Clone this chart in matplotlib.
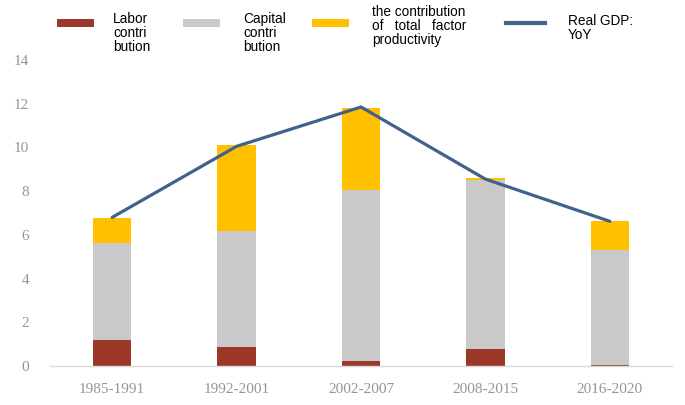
import matplotlib
matplotlib.use("Agg")
import matplotlib.pyplot as plt
from matplotlib.patches import Rectangle
from matplotlib.lines import Line2D

periods = ["1985-1991", "1992-2001", "2002-2007", "2008-2015", "2016-2020"]
labor = [1.2, 0.88, 0.25, 0.76, 0.05]
capital = [4.43, 5.3, 7.79, 7.74, 5.28]
tfp = [1.14, 3.91, 3.78, 0.08, 1.29]
gdp = [6.8, 10.05, 11.85, 8.55, 6.62]
series_names = ["Labor\ncontri\nbution", "Capital\ncontri\nbution",
                "the contribution\nof   total   factor\nproductivity", "Real GDP:\nYoY"]
yticks = [0, 2, 4, 6, 8, 10, 12, 14]

c_labor = "#9C3829"
c_cap = "#C9C9C9"
c_tfp = "#FFC000"
c_gdp = "#41628A"

W, H = 685, 405
fig = plt.figure(figsize=(W / 100, H / 100), dpi=100)
ax = fig.add_axes([50 / W, 39 / H, 622 / W, 306 / H])

x = list(range(len(periods)))
bw = 0.31
ax.bar(x, labor, bw, color=c_labor)
bot2 = [a for a in labor]
ax.bar(x, capital, bw, bottom=bot2, color=c_cap)
bot3 = [a + b for a, b in zip(labor, capital)]
ax.bar(x, tfp, bw, bottom=bot3, color=c_tfp)
ax.plot(x, gdp, color=c_gdp, lw=2.3, solid_capstyle="round", zorder=5)

ax.set_xlim(-0.5, len(periods) - 0.5)
ax.set_ylim(0, 14)
ax.set_yticks(yticks)
ax.set_yticklabels([str(v) for v in yticks])
ax.set_xticks(x)
ax.set_xticklabels(periods)
for s in ["top", "right", "left"]:
    ax.spines[s].set_visible(False)
ax.spines["bottom"].set_color("#D9D9D9")
ax.spines["bottom"].set_linewidth(1.0)
ax.tick_params(axis="both", length=0, colors="#959595", labelsize=11)
ax.tick_params(axis="y", pad=15)
ax.tick_params(axis="x", pad=12)
for lab in ax.get_xticklabels() + ax.get_yticklabels():
    lab.set_fontfamily("Liberation Serif")

# legend drawn in figure pixel coordinates
def fx(px):
    return px / W

def fy(py):
    return 1 - py / H

legend_font = "Liberation Sans"
patch_specs = [(57, c_labor), (183, c_cap), (312, c_tfp)]
for (px, col) in patch_specs:
    fig.patches.append(Rectangle((fx(px), fy(27)), 37 / W, 8 / H, transform=fig.transFigure,
                                 color=col, lw=0))
fig.lines.append(Line2D([fx(506), fx(545)], [fy(23), fy(23)], transform=fig.transFigure,
                        color=c_gdp, lw=3.0))
text_specs = [(113, 12), (243, 12), (372, 5), (568, 14)]
for (tx, ty), name in zip(text_specs, series_names):
    fig.text(fx(tx), fy(ty), name, ha="left", va="top", fontsize=9.8,
             family=legend_font, color="black", linespacing=0.98)

fig.savefig("out.png", dpi=100)
